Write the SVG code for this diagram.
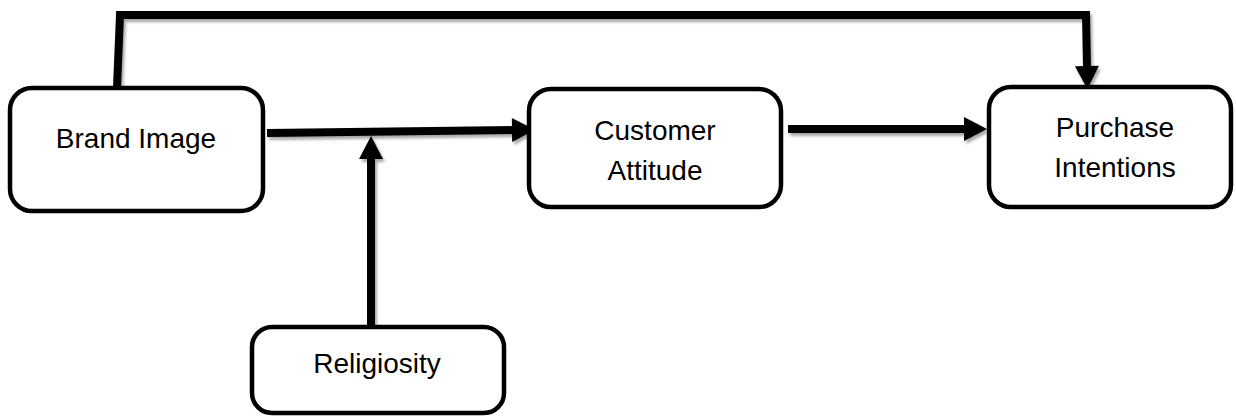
<svg xmlns="http://www.w3.org/2000/svg" width="1236" height="418" viewBox="0 0 1236 418">
<style>
.box{fill:#fff;stroke:#000;stroke-width:4.5}
.lbl{font-family:"Liberation Sans",Arial,sans-serif;font-size:28px;fill:#000;text-anchor:middle}
.conn{fill:none;stroke:#000;stroke-width:8;stroke-linejoin:miter}
</style>
<defs>
<marker id="ah" markerUnits="userSpaceOnUse" markerWidth="24" markerHeight="26" refX="2" refY="12" orient="auto" viewBox="0 0 24 24" overflow="visible">
<path d="M0,0 L23,12 L0,24 z" fill="#000"/>
</marker>
<filter id="sh" x="-5%" y="-5%" width="110%" height="130%">
<feGaussianBlur in="SourceAlpha" stdDeviation="1.5"/>
<feOffset dx="2" dy="3" result="b"/>
<feComponentTransfer><feFuncA type="linear" slope="0.35"/></feComponentTransfer>
<feMerge><feMergeNode/><feMergeNode in="SourceGraphic"/></feMerge>
</filter>
</defs>
<g id="connectors" filter="url(#sh)">
<path class="conn" d="M117,88 L120,15 L1086,15 L1087,68" marker-end="url(#ah)"/>
<path class="conn" d="M267,133 L514,130" marker-end="url(#ah)"/>
<path class="conn" d="M371,325 L371,157" marker-end="url(#ah)"/>
<path class="conn" d="M788,129 L966,129" marker-end="url(#ah)"/>
</g>
<g id="brand-image">
<rect class="box" x="10" y="88" width="253" height="123" rx="22"/>
<text class="lbl" x="136" y="148">Brand Image</text>
</g>
<g id="customer-attitude">
<rect class="box" x="529" y="89" width="252" height="118" rx="22"/>
<text class="lbl" x="655" y="140">Customer</text>
<text class="lbl" x="655" y="180">Attitude</text>
</g>
<g id="purchase-intentions">
<rect class="box" x="989" y="87" width="242" height="120" rx="22"/>
<text class="lbl" x="1115" y="137">Purchase</text>
<text class="lbl" x="1115" y="177">Intentions</text>
</g>
<g id="religiosity">
<rect class="box" x="252" y="327" width="252" height="86" rx="20"/>
<text class="lbl" x="377" y="373">Religiosity</text>
</g>
</svg>
